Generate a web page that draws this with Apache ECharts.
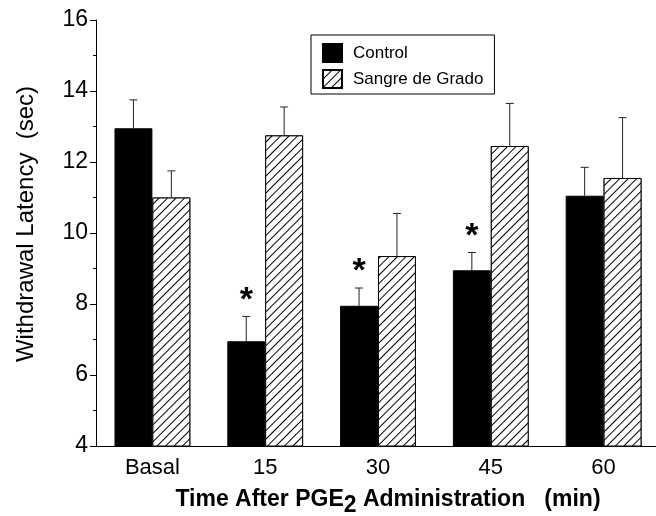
<!DOCTYPE html>
<html>
<head>
<meta charset="utf-8">
<script src="https://cdn.jsdelivr.net/npm/echarts@6/dist/echarts.min.js"></script>
<style>
  html, body { margin: 0; padding: 0; background: #fff; }
  #chart { width: 656px; height: 516px; }
</style>
</head>
<body>
<div id="chart"></div>
<script>
var categories = ["Basal", "15", "30", "45", "60"];
var controlMean = [12.95, 6.95, 7.95, 8.95, 11.05];
var controlSem = [0.8, 0.7, 0.5, 0.5, 0.8];
var sdgMean = [11.0, 12.75, 9.35, 12.45, 11.55];
var sdgSem = [0.75, 0.8, 1.2, 1.2, 1.7];
// asterisk = significant vs basal
var controlStar = [false, true, true, true, false];

var FONT = "Liberation Sans";
var hatch = {
  symbol: "rect",
  color: "#000",
  backgroundColor: "#fff",
  dashArrayX: [1, 0],
  dashArrayY: [1, 5],
  rotation: -Math.PI / 4
};

function errSeries(name, means, sems, side, stars) {
  return {
    name: name + " err",
    type: "custom",
    z: 5,
    data: means.map(function (m, i) { return [i, m, m + sems[i], stars && stars[i] ? 1 : 0]; }),
    renderItem: function (params, api) {
      var band = api.size([1, 0])[0];
      var x = api.coord([api.value(0), 0])[0] + side * band * 0.168;
      var y0 = api.coord([api.value(0), api.value(1)])[1];
      var y1 = api.coord([api.value(0), api.value(2)])[1];
      var st = { stroke: "#222", lineWidth: 1 };
      var kids = [
        { type: "line", shape: { x1: x, y1: y0, x2: x, y2: y1 }, style: st },
        { type: "line", shape: { x1: x - 4, y1: y1, x2: x + 4, y2: y1 }, style: st }
      ];
      if (api.value(3)) {
        kids.push({
          type: "text",
          style: {
            text: "*", x: x, y: y1 - 16, align: "center", verticalAlign: "middle",
            font: "bold 34px " + FONT, fill: "#000"
          }
        });
      }
      return { type: "group", children: kids };
    }
  };
}

var chart = echarts.init(document.getElementById("chart"));
chart.setOption({
  animation: false,
  textStyle: { fontFamily: FONT, color: "#000" },
  legend: {
    data: ["Control", "Sangre de Grado"],
    orient: "vertical",
    left: 311,
    top: 35,
    padding: [8, 11, 5, 11],
    itemWidth: 19,
    itemHeight: 18,
    itemGap: 6,
    icon: "rect",
    borderColor: "#000",
    borderWidth: 1,
    borderRadius: 0,
    textStyle: { fontSize: 17, color: "#000", fontFamily: FONT, padding: [0, 0, 0, 6] }
  },
  grid: { left: 96, top: 20, width: 564, height: 426, outerBoundsMode: "none", containLabel: false },
  xAxis: {
    type: "category",
    data: categories,
    axisLine: { lineStyle: { color: "#000", width: 1 } },
    axisTick: { length: 6, lineStyle: { color: "#000" } },
    axisLabel: { fontSize: 22, color: "#000", margin: 11, fontFamily: FONT },
    name: "Time After PGE{sub|2} Administration   (min)",
    nameLocation: "middle",
    nameGap: 36,
    nameTextStyle: {
      fontSize: 23, fontWeight: "bold", color: "#000", fontFamily: FONT,
      padding: [0, 0, 0, 20],
      rich: { sub: { fontSize: 23, fontWeight: "bold", verticalAlign: "bottom", padding: [12, 0, 0, 0], fontFamily: FONT } }
    }
  },
  yAxis: {
    type: "value",
    min: 4,
    max: 16,
    interval: 2,
    splitLine: { show: false },
    axisLine: { show: true, lineStyle: { color: "#000", width: 1 } },
    axisTick: { show: true, length: 6, lineStyle: { color: "#000" } },
    minorTick: { show: true, splitNumber: 2, length: 3, lineStyle: { color: "#000" } },
    axisLabel: { fontSize: 23, color: "#000", margin: 8, fontFamily: FONT },
    name: "Withdrawal Latency  (sec)",
    nameLocation: "middle",
    nameGap: 58,
    nameTextStyle: { fontSize: 24, color: "#000", fontFamily: FONT, padding: [0, 0, 0, 18] }
  },
  series: [
    {
      name: "Control",
      type: "bar",
      data: controlMean,
      barWidth: "33.6%",
      barGap: "0%",
      itemStyle: { color: "#000", borderColor: "#000", borderWidth: 1 }
    },
    {
      name: "Sangre de Grado",
      type: "bar",
      data: sdgMean,
      barWidth: "33.6%",
      barGap: "0%",
      itemStyle: { color: "#fff", decal: hatch, borderColor: "#000", borderWidth: 1 }
    },
    errSeries("Control", controlMean, controlSem, -1, controlStar),
    errSeries("Sangre de Grado", sdgMean, sdgSem, 1, null)
  ]
});
</script>
</body>
</html>
